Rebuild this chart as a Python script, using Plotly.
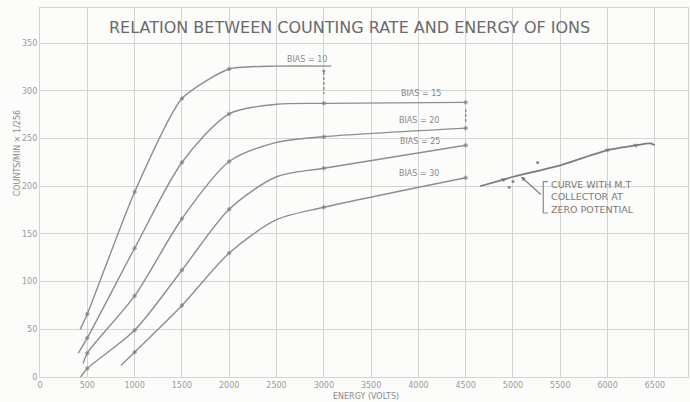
import plotly.graph_objects as go

# ---------------- data ----------------
bias10_x = [425, 500, 1000, 1500, 2000, 2500, 3080]
bias10_y = [50, 66, 194, 292, 323, 326, 326]
bias10_m = [0, 1, 1, 1, 1, 0, 0]

bias15_x = [405, 500, 1000, 1500, 2000, 2500, 3000, 4500]
bias15_y = [25, 41, 135, 225, 276, 286, 287, 288]
bias15_m = [0, 1, 1, 1, 1, 0, 1, 1]

bias20_x = [455, 500, 1000, 1500, 2000, 2500, 3000, 4500]
bias20_y = [14, 25, 85, 166, 226, 246, 252, 261]
bias20_m = [0, 1, 1, 1, 1, 0, 1, 1]

bias25_x = [430, 500, 1000, 1500, 2000, 2500, 3000, 4500]
bias25_y = [0, 9, 49, 112, 176, 210, 219, 243]
bias25_m = [0, 1, 1, 1, 1, 0, 1, 1]

bias30_x = [855, 1000, 1500, 2000, 2500, 3000, 4500]
bias30_y = [12, 26, 75, 130, 165, 178, 209]
bias30_m = [0, 1, 1, 1, 0, 1, 1]

zero_x = [4650, 4900, 5000, 5500, 6000, 6300, 6450, 6500]
zero_y = [200, 207, 210, 222, 238, 243, 245, 243]
zero_m = [0, 1, 0, 0, 1, 1, 0, 0]

stray_x = [3000, 4960, 5000, 5260]
stray_y = [321, 199, 205, 225]

errbar_x = [3000, 3000, None, 4500, 4500]
errbar_y = [320, 297, None, 281, 267]

labels = ["BIAS = 10", "BIAS = 15", "BIAS = 20", "BIAS = 25", "BIAS = 30"]
label_x = [2820, 4030, 4010, 4020, 4010]
label_y = [333, 297, 269, 247, 213]

x_ticks = [0, 500, 1000, 1500, 2000, 2500, 3000, 3500, 4000, 4500, 5000, 5500, 6000, 6500]
y_ticks = [0, 50, 100, 150, 200, 250, 300, 350]

title_text = "RELATION BETWEEN COUNTING RATE AND ENERGY OF IONS"
note_text = "CURVE WITH M.T<br>COLLECTOR AT<br>ZERO POTENTIAL"
x_title = "ENERGY (VOLTS)"
y_title = "COUNTS/MIN × 1/256"

# ---------------- figure ----------------
LINE = "#8e8e8e"
TXT = "#8a8a8a"
GRID = "#d4d4d2"
FONT = "DejaVu Sans, Liberation Sans, sans-serif"

fig = go.Figure()

curves = [
    (bias10_x, bias10_y, bias10_m, 0.6),
    (bias15_x, bias15_y, bias15_m, 0.8),
    (bias20_x, bias20_y, bias20_m, 0.8),
    (bias25_x, bias25_y, bias25_m, 0.8),
    (bias30_x, bias30_y, bias30_m, 0.8),
]
for xs, ys, ms, sm in curves:
    fig.add_trace(go.Scatter(
        x=xs, y=ys, mode="lines+markers",
        line=dict(color=LINE, width=1.4, shape="spline", smoothing=sm),
        marker=dict(color="#7a7a7a", size=[3.5 * m for m in ms]),
        hoverinfo="skip", showlegend=False))

fig.add_trace(go.Scatter(
    x=zero_x, y=zero_y, mode="lines+markers",
    line=dict(color="#7c7c7c", width=1.7, shape="spline", smoothing=0.6),
    marker=dict(color="#707070", size=[4 * m for m in zero_m], symbol="triangle-down"),
    hoverinfo="skip", showlegend=False))

fig.add_trace(go.Scatter(
    x=stray_x, y=stray_y, mode="markers",
    marker=dict(color="#888888", size=3),
    hoverinfo="skip", showlegend=False))

fig.add_trace(go.Scatter(
    x=errbar_x, y=errbar_y, mode="lines",
    line=dict(color="#8a8a8a", width=1.4, dash="3px,2px"),
    hoverinfo="skip", showlegend=False))

for t, lx, ly in zip(labels, label_x, label_y):
    fig.add_annotation(x=lx, y=ly, text=t, showarrow=False,
                       font=dict(family=FONT, size=8, color=TXT))

# title inside plot
fig.add_annotation(xref="paper", yref="paper", x=0.478, y=0.948, text=title_text,
                   xanchor="center", yanchor="middle",
                   showarrow=False, font=dict(family=FONT, size=16, color="#6a6a6a"))

# note with bracket and arrow
fig.add_annotation(x=5380, y=189, text=note_text, showarrow=False, align="left",
                   xanchor="left", yanchor="middle",
                   font=dict(family=FONT, size=9.5, color="#7a7a7a"))
fig.add_shape(type="path", path="M 5370,205 L 5320,205 L 5320,172 L 5370,172",
              line=dict(color="#8a8a8a", width=1.2))
fig.add_annotation(x=5085, y=210, ax=5310, ay=190, axref="x", ayref="y", text="",
                   showarrow=True, arrowhead=2, arrowsize=0.8, arrowwidth=1.1,
                   arrowcolor="#7a7a7a")

# axis titles
fig.add_annotation(xref="paper", yref="paper", x=0.503, y=-0.052, text=x_title,
                   xanchor="center", yanchor="middle",
                   showarrow=False, font=dict(family=FONT, size=8, color=TXT))
fig.add_annotation(xref="paper", yref="paper", x=-0.035, y=0.607, text=y_title,
                   xanchor="center", yanchor="middle",
                   textangle=-90, showarrow=False,
                   font=dict(family=FONT, size=8, color=TXT))

fig.update_xaxes(range=[0, 6850], tickvals=x_ticks, ticktext=[str(v) for v in x_ticks],
                 showgrid=True, gridcolor=GRID, gridwidth=1.3, zeroline=False,
                 showline=True, linecolor=GRID, linewidth=1.3, mirror=True,
                 ticks="", tickfont=dict(family=FONT, size=8, color="#9a9a9a"))
fig.update_yaxes(range=[0, 387], tickvals=y_ticks, ticktext=[str(v) for v in y_ticks],
                 showgrid=True, gridcolor=GRID, gridwidth=1.3, zeroline=False,
                 showline=True, linecolor=GRID, linewidth=1.3, mirror=True,
                 ticks="", tickfont=dict(family=FONT, size=8, color="#9a9a9a"))

fig.update_layout(
    width=690, height=402,
    margin=dict(l=40, r=2, t=8, b=25),
    paper_bgcolor="#fcfcfb", plot_bgcolor="#fcfcfb",
    showlegend=False,
)

fig.write_html("out.html", config={"displayModeBar": False},
               post_script="document.body.style.margin='0';document.body.style.overflow='hidden';")
